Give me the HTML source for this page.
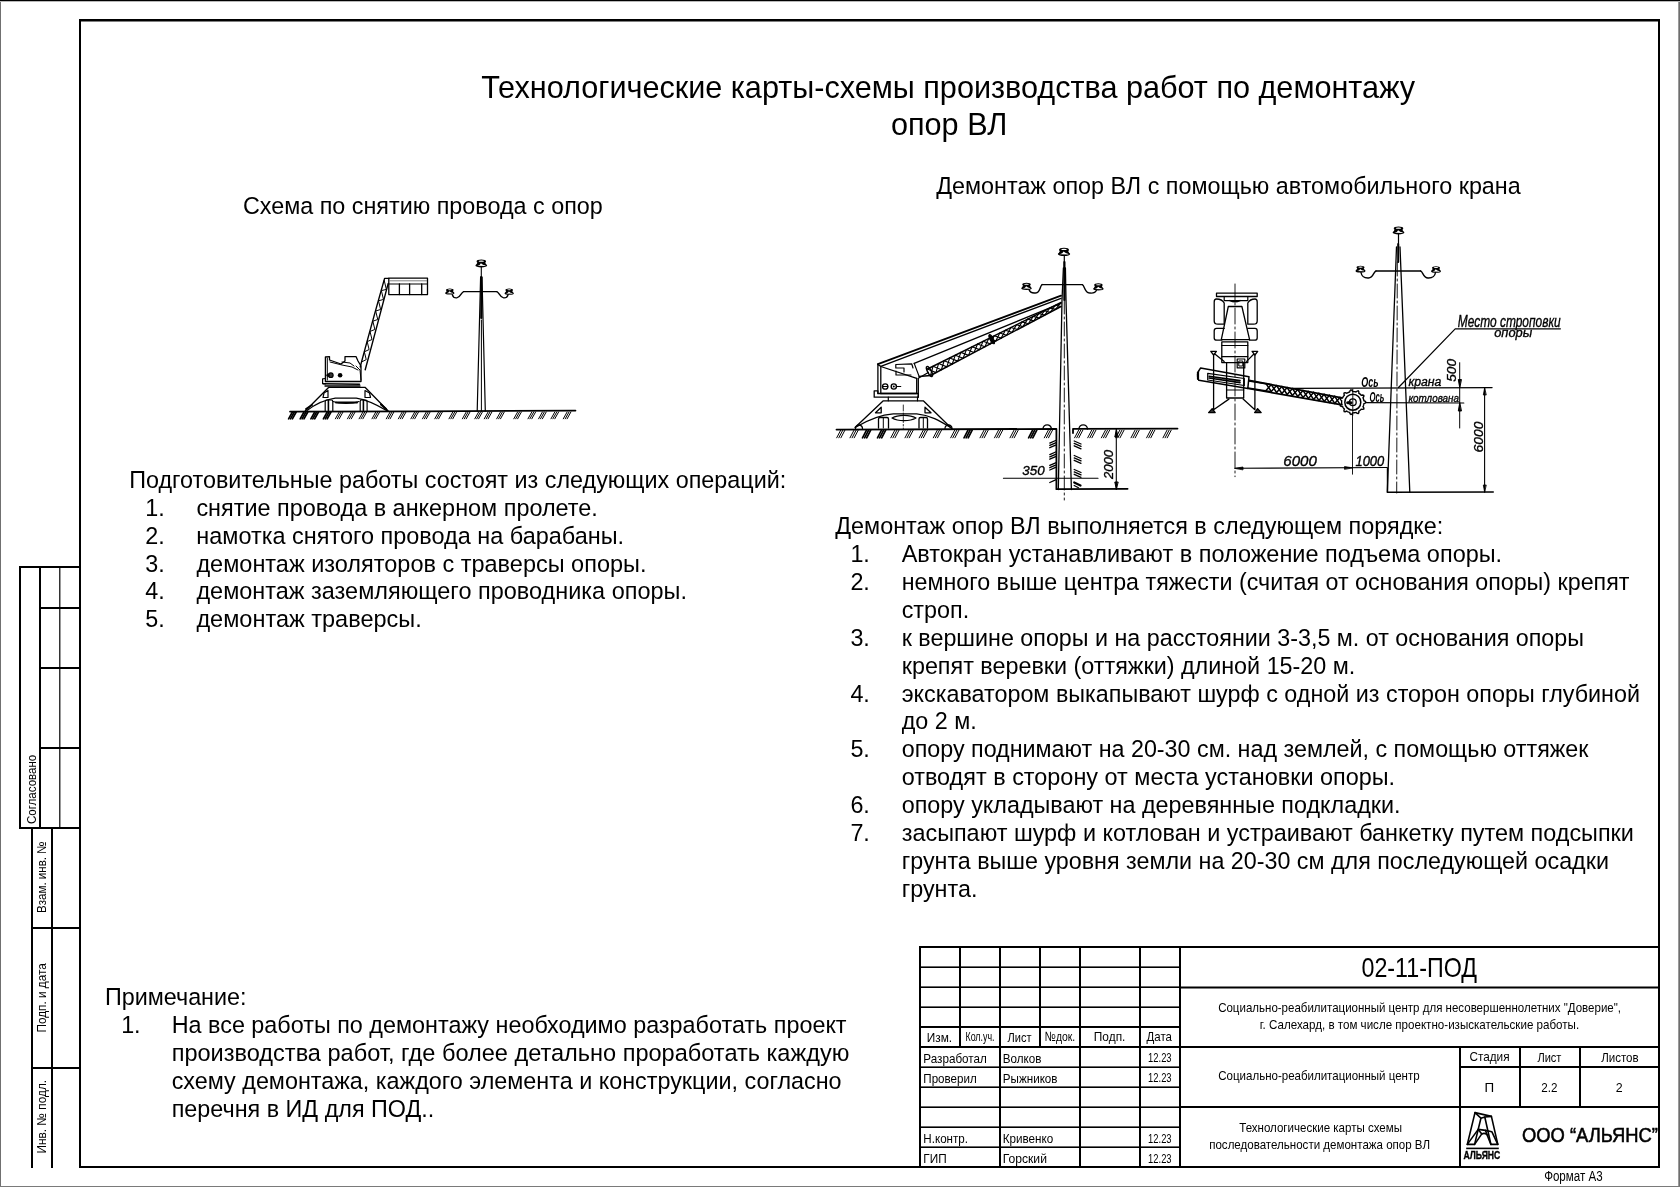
<!DOCTYPE html>
<html><head><meta charset="utf-8"><title>Технологические карты-схемы</title>
<style>html,body{margin:0;padding:0;background:#fff;}body{width:1680px;height:1187px;overflow:hidden;font-family:"Liberation Sans",sans-serif;}svg{display:block;filter:grayscale(100%);}</style>
</head><body>
<svg width="1680" height="1187" viewBox="0 0 1680 1187" font-family="'Liberation Sans', sans-serif"><rect x="0" y="0" width="1" height="1187" fill="#707070"/>
<rect x="1678" y="0" width="1" height="1187" fill="#9a9a9a"/>
<rect x="1679" y="0" width="1" height="1187" fill="#6e6e6e"/>
<rect x="0" y="1186" width="1680" height="1" fill="#7a7a7a"/>
<rect x="0" y="1" width="1680" height="1" fill="#b8b8b8"/>
<rect x="0" y="0" width="1680" height="1" fill="#000"/>
<rect x="79" y="19" width="1581" height="2.5" fill="#000"/>
<rect x="79" y="19" width="2" height="1149" fill="#000"/>
<rect x="1658" y="19" width="2" height="1149" fill="#000"/>
<rect x="79" y="1166" width="1581" height="2" fill="#000"/>
<rect x="19" y="566" width="61" height="2" fill="#000"/>
<rect x="19" y="566" width="2" height="263" fill="#000"/>
<rect x="39" y="566" width="2" height="263" fill="#000"/>
<rect x="59.2" y="566" width="1.2" height="262" fill="#000"/>
<rect x="39" y="607" width="41" height="2" fill="#000"/>
<rect x="39" y="667" width="41" height="2" fill="#000"/>
<rect x="39" y="747" width="41" height="2" fill="#000"/>
<rect x="19" y="827" width="61" height="2" fill="#000"/>
<rect x="31" y="827" width="2" height="341" fill="#000"/>
<rect x="51" y="827" width="2" height="341" fill="#000"/>
<rect x="31" y="927" width="49" height="2" fill="#000"/>
<rect x="31" y="1067" width="49" height="2" fill="#000"/>
<text transform="translate(36.00 824.09) rotate(-90)" x="0" y="0" font-size="13.5" textLength="69.37" lengthAdjust="spacingAndGlyphs">Согласовано</text>
<text transform="translate(46.20 912.95) rotate(-90)" x="0" y="0" font-size="13.0" textLength="71.52" lengthAdjust="spacingAndGlyphs">Взам. инв. №</text>
<text transform="translate(46.00 1032.55) rotate(-90)" x="0" y="0" font-size="13.0" textLength="69.36" lengthAdjust="spacingAndGlyphs">Подп. и дата</text>
<text transform="translate(46.00 1153.57) rotate(-90)" x="0" y="0" font-size="13.0" textLength="73.65" lengthAdjust="spacingAndGlyphs">Инв. № подл.</text>
<rect x="919" y="946" width="741" height="2" fill="#000"/>
<rect x="919" y="946" width="2" height="222" fill="#000"/>
<rect x="999" y="946" width="2" height="222" fill="#000"/>
<rect x="1079" y="946" width="2" height="222" fill="#000"/>
<rect x="1139" y="946" width="2" height="222" fill="#000"/>
<rect x="1179" y="946" width="2" height="222" fill="#000"/>
<rect x="959" y="946" width="2" height="102" fill="#000"/>
<rect x="1039" y="946" width="2" height="102" fill="#000"/>
<rect x="919" y="966.4" width="261" height="1.6" fill="#000"/>
<rect x="919" y="986.4" width="261" height="1.6" fill="#000"/>
<rect x="919" y="1006.4" width="261" height="1.6" fill="#000"/>
<rect x="919" y="1066.4" width="261" height="1.6" fill="#000"/>
<rect x="919" y="1086.4" width="261" height="1.6" fill="#000"/>
<rect x="919" y="1106.4" width="261" height="1.6" fill="#000"/>
<rect x="919" y="1126.4" width="261" height="1.6" fill="#000"/>
<rect x="919" y="1146.4" width="261" height="1.6" fill="#000"/>
<rect x="919" y="1026" width="261" height="2" fill="#000"/>
<rect x="919" y="1046" width="261" height="2" fill="#000"/>
<rect x="1180" y="986.5" width="480" height="2" fill="#000"/>
<rect x="1180" y="1046" width="480" height="2" fill="#000"/>
<rect x="1180" y="1106" width="480" height="2" fill="#000"/>
<rect x="1459" y="1046" width="2" height="122" fill="#000"/>
<rect x="1519" y="1046" width="2" height="62" fill="#000"/>
<rect x="1579" y="1046" width="2" height="62" fill="#000"/>
<rect x="1459" y="1066" width="201" height="2" fill="#000"/>
<text x="926.73" y="1042.30" font-size="13.5" textLength="25.34" lengthAdjust="spacingAndGlyphs" fill="#000">Изм.</text>
<text x="965.47" y="1041.00" font-size="13.5" textLength="29.03" lengthAdjust="spacingAndGlyphs" fill="#000">Кол.уч.</text>
<text x="1007.50" y="1042.30" font-size="13.5" textLength="23.99" lengthAdjust="spacingAndGlyphs" fill="#000">Лист</text>
<text x="1044.74" y="1041.10" font-size="13.5" textLength="30.50" lengthAdjust="spacingAndGlyphs" fill="#000">№док.</text>
<text x="1093.84" y="1041.00" font-size="13.5" textLength="31.54" lengthAdjust="spacingAndGlyphs" fill="#000">Подп.</text>
<text x="1146.52" y="1040.60" font-size="13.5" textLength="25.48" lengthAdjust="spacingAndGlyphs" fill="#000">Дата</text>
<text x="923.34" y="1062.60" font-size="12.4" textLength="63.47" lengthAdjust="spacingAndGlyphs" fill="#000">Разработал</text>
<text x="1002.85" y="1062.60" font-size="12.4" textLength="38.65" lengthAdjust="spacingAndGlyphs" fill="#000">Волков</text>
<text x="923.36" y="1082.90" font-size="12.4" textLength="53.34" lengthAdjust="spacingAndGlyphs" fill="#000">Проверил</text>
<text x="1002.85" y="1082.90" font-size="12.4" textLength="54.66" lengthAdjust="spacingAndGlyphs" fill="#000">Рыжников</text>
<text x="923.35" y="1143.00" font-size="12.4" textLength="44.61" lengthAdjust="spacingAndGlyphs" fill="#000">Н.контр.</text>
<text x="1002.74" y="1143.00" font-size="12.4" textLength="50.55" lengthAdjust="spacingAndGlyphs" fill="#000">Кривенко</text>
<text x="923.33" y="1162.70" font-size="12.4" textLength="23.30" lengthAdjust="spacingAndGlyphs" fill="#000">ГИП</text>
<text x="1002.70" y="1162.70" font-size="12.4" textLength="44.24" lengthAdjust="spacingAndGlyphs" fill="#000">Горский</text>
<text x="1148.09" y="1061.60" font-size="13.0" textLength="23.53" lengthAdjust="spacingAndGlyphs" fill="#000">12.23</text>
<text x="1148.09" y="1081.70" font-size="13.0" textLength="23.53" lengthAdjust="spacingAndGlyphs" fill="#000">12.23</text>
<text x="1148.09" y="1142.50" font-size="13.0" textLength="23.53" lengthAdjust="spacingAndGlyphs" fill="#000">12.23</text>
<text x="1148.09" y="1162.50" font-size="13.0" textLength="23.53" lengthAdjust="spacingAndGlyphs" fill="#000">12.23</text>
<text x="1361.49" y="977.00" font-size="28.3" textLength="115.63" lengthAdjust="spacingAndGlyphs" fill="#000">02-11-ПОД</text>
<text x="1218.16" y="1011.90" font-size="12.8" textLength="402.87" lengthAdjust="spacingAndGlyphs" fill="#000">Социально-реабилитационный центр для несовершеннолетних &quot;Доверие&quot;,</text>
<text x="1259.80" y="1029.40" font-size="12.8" textLength="319.35" lengthAdjust="spacingAndGlyphs" fill="#000">г. Салехард, в том числе проектно-изыскательские работы.</text>
<text x="1218.31" y="1080.00" font-size="13.2" textLength="201.27" lengthAdjust="spacingAndGlyphs" fill="#000">Социально-реабилитационный центр</text>
<text x="1469.40" y="1060.60" font-size="13.2" textLength="40.17" lengthAdjust="spacingAndGlyphs" fill="#000">Стадия</text>
<text x="1537.40" y="1061.90" font-size="13.2" textLength="24.04" lengthAdjust="spacingAndGlyphs" fill="#000">Лист</text>
<text x="1601.15" y="1061.90" font-size="13.2" textLength="37.45" lengthAdjust="spacingAndGlyphs" fill="#000">Листов</text>
<text x="1484.51" y="1091.90" font-size="13.2" textLength="9.64" lengthAdjust="spacingAndGlyphs" fill="#000">П</text>
<text x="1541.32" y="1091.90" font-size="13.2" textLength="16.16" lengthAdjust="spacingAndGlyphs" fill="#000">2.2</text>
<text x="1615.63" y="1091.90" font-size="13.2" textLength="6.89" lengthAdjust="spacingAndGlyphs" fill="#000">2</text>
<text x="1239.25" y="1131.70" font-size="12.8" textLength="162.74" lengthAdjust="spacingAndGlyphs" fill="#000">Технологические карты схемы</text>
<text x="1209.20" y="1148.70" font-size="12.8" textLength="220.84" lengthAdjust="spacingAndGlyphs" fill="#000">последовательности демонтажа опор ВЛ</text>
<text x="1521.94" y="1141.90" font-size="20.5" textLength="135.95" lengthAdjust="spacingAndGlyphs" stroke="#000" stroke-width="0.55" fill="#000">ООО “АЛЬЯНС”</text>
<text x="1544.13" y="1180.70" font-size="13.8" textLength="58.48" lengthAdjust="spacingAndGlyphs" fill="#000">Формат А3</text>
<g fill="none" stroke="#000" stroke-width="1.6" stroke-linejoin="round" stroke-linecap="round"><path d="M1475,1112.6 L1467.3,1144.4 L1474.6,1144.4 L1480.9,1118.2 Z"/><path d="M1475,1112.6 L1491.4,1116.4 L1497.8,1144.4 L1490.9,1144.4 L1484.8,1117.0 L1480.9,1118.2"/><path d="M1484.8,1117.0 L1491.4,1116.4"/><path d="M1467.3,1144.4 L1478.2,1129.4 L1485.5,1130.4 L1491.8,1131.7 L1497.8,1144.4"/><path d="M1474.6,1144.4 L1481.8,1133.9 Q1484.6,1132.6 1487.0,1134.6 L1490.9,1144.4"/><path d="M1478.2,1129.4 L1481.8,1133.9 M1485.5,1130.4 L1487.0,1134.6"/></g>
<rect x="1466.2" y="1147.6" width="32.6" height="1.6" fill="#000"/>
<text x="1463.38" y="1158.50" font-size="10.5" textLength="36.95" lengthAdjust="spacingAndGlyphs" font-weight="bold" stroke="#000" stroke-width="0.35" fill="#000">АЛЬЯНС</text>
<text x="481.13" y="98.40" font-size="30.62" fill="#000">Технологические карты-схемы производства работ по демонтажу</text>
<text x="891.01" y="134.60" font-size="30.62" fill="#000">опор ВЛ</text>
<text x="242.91" y="213.90" font-size="23.35" fill="#000">Схема по снятию провода с опор</text>
<text x="936.24" y="193.90" font-size="23.35" fill="#000">Демонтаж опор ВЛ с помощью автомобильного крана</text>
<text x="129.21" y="488.00" font-size="23.35" fill="#000">Подготовительные работы состоят из следующих операций:</text>
<text x="145.30" y="515.90" font-size="23.35">1.</text>
<text x="196.40" y="515.90" font-size="23.35" textLength="401.44" lengthAdjust="spacingAndGlyphs" fill="#000">снятие провода в анкерном пролете.</text>
<text x="145.30" y="543.70" font-size="23.35">2.</text>
<text x="196.39" y="543.70" font-size="23.35" textLength="427.74" lengthAdjust="spacingAndGlyphs" fill="#000">намотка снятого провода на барабаны.</text>
<text x="145.30" y="571.50" font-size="23.35">3.</text>
<text x="196.40" y="571.50" font-size="23.35" textLength="450.05" lengthAdjust="spacingAndGlyphs" fill="#000">демонтаж изоляторов с траверсы опоры.</text>
<text x="145.30" y="599.30" font-size="23.35">4.</text>
<text x="196.40" y="599.30" font-size="23.35" textLength="490.52" lengthAdjust="spacingAndGlyphs" fill="#000">демонтаж заземляющего проводника опоры.</text>
<text x="145.30" y="627.10" font-size="23.35">5.</text>
<text x="196.40" y="627.10" font-size="23.35" textLength="225.33" lengthAdjust="spacingAndGlyphs" fill="#000">демонтаж траверсы.</text>
<text x="835.24" y="533.90" font-size="23.35" textLength="608.15" lengthAdjust="spacingAndGlyphs" fill="#000">Демонтаж опор ВЛ выполняется в следующем порядке:</text>
<text x="850.40" y="561.84" font-size="23.35">1.</text>
<text x="901.70" y="561.84" font-size="23.35" textLength="600.42" lengthAdjust="spacingAndGlyphs" fill="#000">Автокран устанавливают в положение подъема опоры.</text>
<text x="850.40" y="589.78" font-size="23.35">2.</text>
<text x="901.71" y="589.78" font-size="23.35" textLength="727.70" lengthAdjust="spacingAndGlyphs" fill="#000">немного выше центра тяжести (считая от основания опоры) крепят</text>
<text x="901.70" y="617.72" font-size="23.35">строп.</text>
<text x="850.40" y="645.66" font-size="23.35">3.</text>
<text x="901.70" y="645.66" font-size="23.35" textLength="682.30" lengthAdjust="spacingAndGlyphs" fill="#000">к вершине опоры и на расстоянии 3-3,5 м. от основания опоры</text>
<text x="901.70" y="673.60" font-size="23.35">крепят веревки (оттяжки) длиной 15-20 м.</text>
<text x="850.40" y="701.54" font-size="23.35">4.</text>
<text x="901.70" y="701.54" font-size="23.35" textLength="738.33" lengthAdjust="spacingAndGlyphs" fill="#000">экскаватором выкапывают шурф с одной из сторон опоры глубиной</text>
<text x="901.70" y="729.48" font-size="23.35">до 2 м.</text>
<text x="850.40" y="757.42" font-size="23.35">5.</text>
<text x="901.70" y="757.42" font-size="23.35" textLength="686.80" lengthAdjust="spacingAndGlyphs" fill="#000">опору поднимают на 20-30 см. над землей, с помощью оттяжек</text>
<text x="901.70" y="785.36" font-size="23.35" textLength="493.43" lengthAdjust="spacingAndGlyphs" fill="#000">отводят в сторону от места установки опоры.</text>
<text x="850.40" y="813.30" font-size="23.35">6.</text>
<text x="901.70" y="813.30" font-size="23.35" textLength="498.83" lengthAdjust="spacingAndGlyphs" fill="#000">опору укладывают на деревянные подкладки.</text>
<text x="850.40" y="841.24" font-size="23.35">7.</text>
<text x="901.70" y="841.24" font-size="23.35" textLength="732.22" lengthAdjust="spacingAndGlyphs" fill="#000">засыпают шурф и котлован и устраивают банкетку путем подсыпки</text>
<text x="901.70" y="869.18" font-size="23.35" textLength="707.22" lengthAdjust="spacingAndGlyphs" fill="#000">грунта выше уровня земли на 20-30 см для последующей осадки</text>
<text x="901.70" y="897.12" font-size="23.35">грунта.</text>
<text x="104.91" y="1005.00" font-size="23.35" fill="#000">Примечание:</text>
<text x="121.13" y="1033.00" font-size="23.35">1.</text>
<text x="171.68" y="1033.00" font-size="23.35" textLength="674.91" lengthAdjust="spacingAndGlyphs" fill="#000">На все работы по демонтажу необходимо разработать проект</text>
<text x="171.67" y="1060.90" font-size="23.35" textLength="677.71" lengthAdjust="spacingAndGlyphs" fill="#000">производства работ, где более детально проработать каждую</text>
<text x="171.69" y="1088.80" font-size="23.35" textLength="669.90" lengthAdjust="spacingAndGlyphs" fill="#000">схему демонтажа, каждого элемента и конструкции, согласно</text>
<text x="171.69" y="1116.70" font-size="23.35">перечня в ИД для ПОД..</text>
<path d="M290,411.6 L420,411.4 L575.5,410.6" stroke="#000" stroke-width="1.7" fill="none" stroke-linecap="round" stroke-linejoin="round" /><line x1="288.60" y1="418.80" x2="292.40" y2="412.00" stroke="#000" stroke-width="1.7" stroke-linecap="round" /><line x1="290.50" y1="418.80" x2="294.30" y2="412.00" stroke="#000" stroke-width="1.7" stroke-linecap="round" /><line x1="292.40" y1="418.80" x2="296.20" y2="412.00" stroke="#000" stroke-width="1.7" stroke-linecap="round" /><line x1="300.20" y1="418.80" x2="304.00" y2="412.00" stroke="#000" stroke-width="1.7" stroke-linecap="round" /><line x1="302.10" y1="418.80" x2="305.90" y2="412.00" stroke="#000" stroke-width="1.7" stroke-linecap="round" /><line x1="304.00" y1="418.80" x2="307.80" y2="412.00" stroke="#000" stroke-width="1.7" stroke-linecap="round" /><line x1="310.90" y1="418.80" x2="314.70" y2="412.00" stroke="#000" stroke-width="1.7" stroke-linecap="round" /><line x1="312.80" y1="418.80" x2="316.60" y2="412.00" stroke="#000" stroke-width="1.7" stroke-linecap="round" /><line x1="314.70" y1="418.80" x2="318.50" y2="412.00" stroke="#000" stroke-width="1.7" stroke-linecap="round" /><line x1="323.40" y1="418.80" x2="327.20" y2="412.00" stroke="#000" stroke-width="1.7" stroke-linecap="round" /><line x1="325.30" y1="418.80" x2="329.10" y2="412.00" stroke="#000" stroke-width="1.7" stroke-linecap="round" /><line x1="327.20" y1="418.80" x2="331.00" y2="412.00" stroke="#000" stroke-width="1.7" stroke-linecap="round" /><line x1="335.40" y1="418.80" x2="339.20" y2="412.00" stroke="#000" stroke-width="1.0" stroke-linecap="round" /><line x1="337.30" y1="418.80" x2="341.10" y2="412.00" stroke="#000" stroke-width="1.0" stroke-linecap="round" /><line x1="339.20" y1="418.80" x2="343.00" y2="412.00" stroke="#000" stroke-width="1.0" stroke-linecap="round" /><line x1="347.50" y1="418.80" x2="351.30" y2="412.00" stroke="#000" stroke-width="1.0" stroke-linecap="round" /><line x1="349.40" y1="418.80" x2="353.20" y2="412.00" stroke="#000" stroke-width="1.0" stroke-linecap="round" /><line x1="351.30" y1="418.80" x2="355.10" y2="412.00" stroke="#000" stroke-width="1.0" stroke-linecap="round" /><line x1="359.10" y1="418.80" x2="362.90" y2="412.00" stroke="#000" stroke-width="1.0" stroke-linecap="round" /><line x1="361.00" y1="418.80" x2="364.80" y2="412.00" stroke="#000" stroke-width="1.0" stroke-linecap="round" /><line x1="362.90" y1="418.80" x2="366.70" y2="412.00" stroke="#000" stroke-width="1.0" stroke-linecap="round" /><line x1="372.00" y1="418.80" x2="375.80" y2="412.00" stroke="#000" stroke-width="1.0" stroke-linecap="round" /><line x1="373.90" y1="418.80" x2="377.70" y2="412.00" stroke="#000" stroke-width="1.0" stroke-linecap="round" /><line x1="375.80" y1="418.80" x2="379.60" y2="412.00" stroke="#000" stroke-width="1.0" stroke-linecap="round" /><line x1="386.30" y1="418.80" x2="390.10" y2="412.00" stroke="#000" stroke-width="1.0" stroke-linecap="round" /><line x1="388.20" y1="418.80" x2="392.00" y2="412.00" stroke="#000" stroke-width="1.0" stroke-linecap="round" /><line x1="390.10" y1="418.80" x2="393.90" y2="412.00" stroke="#000" stroke-width="1.0" stroke-linecap="round" /><line x1="398.40" y1="418.80" x2="402.20" y2="412.00" stroke="#000" stroke-width="1.0" stroke-linecap="round" /><line x1="400.30" y1="418.80" x2="404.10" y2="412.00" stroke="#000" stroke-width="1.0" stroke-linecap="round" /><line x1="402.20" y1="418.80" x2="406.00" y2="412.00" stroke="#000" stroke-width="1.0" stroke-linecap="round" /><line x1="410.90" y1="418.80" x2="414.70" y2="412.00" stroke="#000" stroke-width="1.0" stroke-linecap="round" /><line x1="412.80" y1="418.80" x2="416.60" y2="412.00" stroke="#000" stroke-width="1.0" stroke-linecap="round" /><line x1="414.70" y1="418.80" x2="418.50" y2="412.00" stroke="#000" stroke-width="1.0" stroke-linecap="round" /><line x1="422.50" y1="418.80" x2="426.30" y2="412.00" stroke="#000" stroke-width="1.0" stroke-linecap="round" /><line x1="424.40" y1="418.80" x2="428.20" y2="412.00" stroke="#000" stroke-width="1.0" stroke-linecap="round" /><line x1="426.30" y1="418.80" x2="430.10" y2="412.00" stroke="#000" stroke-width="1.0" stroke-linecap="round" /><line x1="434.80" y1="418.80" x2="438.60" y2="412.00" stroke="#000" stroke-width="1.0" stroke-linecap="round" /><line x1="436.70" y1="418.80" x2="440.50" y2="412.00" stroke="#000" stroke-width="1.0" stroke-linecap="round" /><line x1="438.60" y1="418.80" x2="442.40" y2="412.00" stroke="#000" stroke-width="1.0" stroke-linecap="round" /><line x1="449.00" y1="418.80" x2="452.80" y2="412.00" stroke="#000" stroke-width="1.0" stroke-linecap="round" /><line x1="450.90" y1="418.80" x2="454.70" y2="412.00" stroke="#000" stroke-width="1.0" stroke-linecap="round" /><line x1="452.80" y1="418.80" x2="456.60" y2="412.00" stroke="#000" stroke-width="1.0" stroke-linecap="round" /><line x1="462.40" y1="418.80" x2="466.20" y2="412.00" stroke="#000" stroke-width="1.0" stroke-linecap="round" /><line x1="464.30" y1="418.80" x2="468.10" y2="412.00" stroke="#000" stroke-width="1.0" stroke-linecap="round" /><line x1="466.20" y1="418.80" x2="470.00" y2="412.00" stroke="#000" stroke-width="1.0" stroke-linecap="round" /><line x1="474.80" y1="418.80" x2="478.60" y2="412.00" stroke="#000" stroke-width="1.0" stroke-linecap="round" /><line x1="476.70" y1="418.80" x2="480.50" y2="412.00" stroke="#000" stroke-width="1.0" stroke-linecap="round" /><line x1="478.60" y1="418.80" x2="482.40" y2="412.00" stroke="#000" stroke-width="1.0" stroke-linecap="round" /><line x1="484.30" y1="418.80" x2="488.10" y2="412.00" stroke="#000" stroke-width="1.0" stroke-linecap="round" /><line x1="486.20" y1="418.80" x2="490.00" y2="412.00" stroke="#000" stroke-width="1.0" stroke-linecap="round" /><line x1="488.10" y1="418.80" x2="491.90" y2="412.00" stroke="#000" stroke-width="1.0" stroke-linecap="round" /><line x1="496.70" y1="418.80" x2="500.50" y2="412.00" stroke="#000" stroke-width="1.0" stroke-linecap="round" /><line x1="498.60" y1="418.80" x2="502.40" y2="412.00" stroke="#000" stroke-width="1.0" stroke-linecap="round" /><line x1="500.50" y1="418.80" x2="504.30" y2="412.00" stroke="#000" stroke-width="1.0" stroke-linecap="round" /><line x1="513.80" y1="418.80" x2="517.60" y2="412.00" stroke="#000" stroke-width="1.0" stroke-linecap="round" /><line x1="515.70" y1="418.80" x2="519.50" y2="412.00" stroke="#000" stroke-width="1.0" stroke-linecap="round" /><line x1="517.60" y1="418.80" x2="521.40" y2="412.00" stroke="#000" stroke-width="1.0" stroke-linecap="round" /><line x1="528.00" y1="418.80" x2="531.80" y2="412.00" stroke="#000" stroke-width="1.0" stroke-linecap="round" /><line x1="529.90" y1="418.80" x2="533.70" y2="412.00" stroke="#000" stroke-width="1.0" stroke-linecap="round" /><line x1="531.80" y1="418.80" x2="535.60" y2="412.00" stroke="#000" stroke-width="1.0" stroke-linecap="round" /><line x1="538.60" y1="418.80" x2="542.40" y2="412.00" stroke="#000" stroke-width="1.0" stroke-linecap="round" /><line x1="540.50" y1="418.80" x2="544.30" y2="412.00" stroke="#000" stroke-width="1.0" stroke-linecap="round" /><line x1="542.40" y1="418.80" x2="546.20" y2="412.00" stroke="#000" stroke-width="1.0" stroke-linecap="round" /><line x1="551.00" y1="418.80" x2="554.80" y2="412.00" stroke="#000" stroke-width="1.0" stroke-linecap="round" /><line x1="552.90" y1="418.80" x2="556.70" y2="412.00" stroke="#000" stroke-width="1.0" stroke-linecap="round" /><line x1="554.80" y1="418.80" x2="558.60" y2="412.00" stroke="#000" stroke-width="1.0" stroke-linecap="round" /><line x1="563.30" y1="418.80" x2="567.10" y2="412.00" stroke="#000" stroke-width="1.0" stroke-linecap="round" /><line x1="565.20" y1="418.80" x2="569.00" y2="412.00" stroke="#000" stroke-width="1.0" stroke-linecap="round" /><line x1="567.10" y1="418.80" x2="570.90" y2="412.00" stroke="#000" stroke-width="1.0" stroke-linecap="round" /><ellipse cx="481.3" cy="261.42" rx="4.75" ry="1.90" fill="#000"/><path d="M477.88,261.70 L484.72,261.70 L486.62,265.31 L475.98,265.31 Z" fill="#000"/><ellipse cx="481.3" cy="265.60" rx="5.89" ry="1.80" fill="#000"/><ellipse cx="481.3" cy="261.13" rx="2.66" ry="0.62" fill="#fff"/><path d="M477.31,265.79 Q480.16,265.41 480.92,263.22 Q482.73,265.12 485.48,265.50 L485.48,266.07 Z" fill="#fff"/><path d="M480.6,277 L477.2,411" stroke="#000" stroke-width="1.2" fill="none" stroke-linecap="round" stroke-linejoin="round" /><path d="M482.0,277 L485.3,411" stroke="#000" stroke-width="1.2" fill="none" stroke-linecap="round" stroke-linejoin="round" /><path d="M481.3,267 L481.3,277" stroke="#000" stroke-width="1.1" fill="none" stroke-linecap="round" stroke-linejoin="round" /><path d="M481.3,277 L481.3,318" stroke="#000" stroke-width="2.2" fill="none" stroke-linecap="round" stroke-linejoin="round" /><path d="M481.4,320 L481.4,411" stroke="#000" stroke-width="1.0" fill="none" stroke-linecap="round" stroke-linejoin="round" /><path d="M463.6,291.6 L496.8,291.6" stroke="#000" stroke-width="1.4" fill="none" stroke-linecap="round" stroke-linejoin="round" /><path d="M463.6,291.6 C461.2,292.2 460.6,297.6 456.8,297.9 C454,298.1 452.8,296.5 452.3,294.6" stroke="#000" stroke-width="1.4" fill="none" stroke-linecap="round" stroke-linejoin="round" /><path d="M496.8,291.6 C499.2,292.2 499.8,297.6 503.6,297.9 C506.4,298.1 507.6,296.5 508.1,294.6" stroke="#000" stroke-width="1.4" fill="none" stroke-linecap="round" stroke-linejoin="round" /><ellipse cx="449.8" cy="289.88" rx="3.75" ry="1.50" fill="#000"/><path d="M447.10,290.10 L452.50,290.10 L454.00,292.95 L445.60,292.95 Z" fill="#000"/><ellipse cx="449.8" cy="293.18" rx="4.65" ry="1.42" fill="#000"/><ellipse cx="449.8" cy="289.65" rx="2.10" ry="0.49" fill="#fff"/><path d="M446.65,293.33 Q448.90,293.03 449.50,291.30 Q450.93,292.80 453.10,293.10 L453.10,293.55 Z" fill="#fff"/><ellipse cx="509.2" cy="290.07" rx="3.75" ry="1.50" fill="#000"/><path d="M506.50,290.30 L511.90,290.30 L513.40,293.15 L505.00,293.15 Z" fill="#000"/><ellipse cx="509.2" cy="293.38" rx="4.65" ry="1.42" fill="#000"/><ellipse cx="509.2" cy="289.85" rx="2.10" ry="0.49" fill="#fff"/><path d="M506.05,293.53 Q508.30,293.23 508.90,291.50 Q510.32,293.00 512.50,293.30 L512.50,293.75 Z" fill="#fff"/><path d="M388.8,278.2 L427.5,278.2 L427.5,294.6 L388.8,294.6 Z" stroke="#000" stroke-width="1.3" fill="none" stroke-linecap="round" stroke-linejoin="round" /><path d="M388.8,284 L427.5,284" stroke="#000" stroke-width="1.2" fill="none" stroke-linecap="round" stroke-linejoin="round" /><path d="M390,280.8 L426.5,280.8" stroke="#000" stroke-width="0.5" fill="none" stroke-linecap="round" stroke-linejoin="round" /><path d="M399.4,284 L399.4,294.6" stroke="#000" stroke-width="1.3" fill="none" stroke-linecap="round" stroke-linejoin="round" /><path d="M409.6,284 L409.6,294.6" stroke="#000" stroke-width="1.3" fill="none" stroke-linecap="round" stroke-linejoin="round" /><path d="M421.7,284 L421.7,294.6" stroke="#000" stroke-width="1.3" fill="none" stroke-linecap="round" stroke-linejoin="round" /><path d="M360.2,367 Q370,330 384.6,278.4 L388.8,278.4" stroke="#000" stroke-width="1.4" fill="none" stroke-linecap="round" stroke-linejoin="round" /><path d="M365.2,369.8 Q376,330 388.2,283.4" stroke="#000" stroke-width="1.4" fill="none" stroke-linecap="round" stroke-linejoin="round" /><path d="M361.50,362.00 L366.24,359.59 L364.34,351.80 L369.11,349.56 L367.18,341.60 L371.99,339.54 L370.01,331.40 L374.86,329.51 L372.85,321.20 L377.74,319.49 L375.69,311.00 L380.61,309.46 L378.52,300.80 L383.49,299.44 L381.36,290.60 L386.36,289.41 L384.20,280.40" stroke="#000" stroke-width="1.0" fill="none" stroke-linecap="round" stroke-linejoin="round" /><path d="M325.4,381.5 L325.4,357 L329.5,356.6 L329.5,360 L341,364 L345,361 L345,356.6 L356,356.6 L358,361 L361,366 L361,381.5 Z" stroke="#000" stroke-width="1.3" fill="none" stroke-linecap="round" stroke-linejoin="round" /><path d="M327.3,358 L327.3,380" stroke="#000" stroke-width="1.0" fill="none" stroke-linecap="round" stroke-linejoin="round" /><path d="M330,362 L342,365 L352,367 L358,370" stroke="#000" stroke-width="1.0" fill="none" stroke-linecap="round" stroke-linejoin="round" /><path d="M342,362 L350,363 L354,366" stroke="#000" stroke-width="1.0" fill="none" stroke-linecap="round" stroke-linejoin="round" /><path d="M356,366 L360,370 L361,380" stroke="#000" stroke-width="1.0" fill="none" stroke-linecap="round" stroke-linejoin="round" /><circle cx="330.8" cy="375.2" r="2.3" fill="#333" stroke="#000" stroke-width="1.2"/><circle cx="340.1" cy="375.2" r="2.3" fill="#000"/><circle cx="328.0" cy="375.2" r="1.6" fill="#000"/><path d="M325.4,378.5 L322.6,378.8 L322.6,383.5 L325.4,384" stroke="#000" stroke-width="1.2" fill="none" stroke-linecap="round" stroke-linejoin="round" /><path d="M323,383.8 L359.5,384.3" stroke="#000" stroke-width="1.6" fill="none" stroke-linecap="round" stroke-linejoin="round" /><path d="M325,386 L360,386" stroke="#000" stroke-width="1.3" fill="none" stroke-linecap="round" stroke-linejoin="round" /><path d="M305,411.3 L328.8,387.3 L365.0,387.3 L388.2,411.0" stroke="#000" stroke-width="1.3" fill="none" stroke-linecap="round" stroke-linejoin="round" /><path d="M307,410.5 C318,402 326,399.5 335.3,398.1 L356.3,398.1 C365,399.5 374,403 386.5,410.5" stroke="#000" stroke-width="1.2" fill="none" stroke-linecap="round" stroke-linejoin="round" /><path d="M333,401.5 C340,404 352,404 359,401.5" stroke="#000" stroke-width="1.2" fill="none" stroke-linecap="round" stroke-linejoin="round" /><path d="M336,402.5 L357,402.5" stroke="#000" stroke-width="2.0" fill="none" stroke-linecap="round" stroke-linejoin="round" /><path d="M325.2,410.8 L325.2,401.5 Q325.2,400 326.7,400 L331.3,400 Q332.8,400 332.8,401.5 L332.8,410.8" stroke="#000" stroke-width="1.2" fill="none" stroke-linecap="round" stroke-linejoin="round" /><path d="M328.4,400.5 L328.4,410.5" stroke="#000" stroke-width="1.6" fill="none" stroke-linecap="round" stroke-linejoin="round" /><path d="M360.2,410.8 L360.2,401.5 Q360.2,400 361.7,400 L365.6,400 Q367.1,400 367.1,401.5 L367.1,410.8" stroke="#000" stroke-width="1.2" fill="none" stroke-linecap="round" stroke-linejoin="round" /><path d="M363.4,400.5 L363.4,410.5" stroke="#000" stroke-width="1.6" fill="none" stroke-linecap="round" stroke-linejoin="round" /><path d="M324,393 L328,390.5 L328,397.5 L323,397.5 Z" stroke="#000" stroke-width="1.2" fill="none" stroke-linecap="round" stroke-linejoin="round" /><path d="M365,390.5 L369.5,393 L370.5,397.5 L365,397.5 Z" stroke="#000" stroke-width="1.2" fill="none" stroke-linecap="round" stroke-linejoin="round" /><path d="M306,409 L312,405" stroke="#000" stroke-width="2.0" fill="none" stroke-linecap="round" stroke-linejoin="round" /><path d="M381,404.5 L386,409" stroke="#000" stroke-width="2.0" fill="none" stroke-linecap="round" stroke-linejoin="round" /><path d="M836.5,429.6 L1056.4,428.9 L1056.4,489.2 L1127.6,488.8" stroke="#000" stroke-width="1.8" fill="none" stroke-linecap="round" stroke-linejoin="round" /><path d="M1073.0,433 L1073.0,428.9 L1177.5,428.6" stroke="#000" stroke-width="1.8" fill="none" stroke-linecap="round" stroke-linejoin="round" /><line x1="836.70" y1="437.80" x2="840.70" y2="430.20" stroke="#000" stroke-width="1.0" stroke-linecap="round" /><line x1="838.80" y1="437.80" x2="842.80" y2="430.20" stroke="#000" stroke-width="1.0" stroke-linecap="round" /><line x1="840.90" y1="437.80" x2="844.90" y2="430.20" stroke="#000" stroke-width="1.0" stroke-linecap="round" /><line x1="850.00" y1="437.80" x2="854.00" y2="430.20" stroke="#000" stroke-width="1.0" stroke-linecap="round" /><line x1="852.10" y1="437.80" x2="856.10" y2="430.20" stroke="#000" stroke-width="1.0" stroke-linecap="round" /><line x1="854.20" y1="437.80" x2="858.20" y2="430.20" stroke="#000" stroke-width="1.0" stroke-linecap="round" /><line x1="862.50" y1="437.80" x2="866.50" y2="430.20" stroke="#000" stroke-width="1.7" stroke-linecap="round" /><line x1="864.60" y1="437.80" x2="868.60" y2="430.20" stroke="#000" stroke-width="1.7" stroke-linecap="round" /><line x1="866.70" y1="437.80" x2="870.70" y2="430.20" stroke="#000" stroke-width="1.7" stroke-linecap="round" /><line x1="877.50" y1="437.80" x2="881.50" y2="430.20" stroke="#000" stroke-width="1.7" stroke-linecap="round" /><line x1="879.60" y1="437.80" x2="883.60" y2="430.20" stroke="#000" stroke-width="1.7" stroke-linecap="round" /><line x1="881.70" y1="437.80" x2="885.70" y2="430.20" stroke="#000" stroke-width="1.7" stroke-linecap="round" /><line x1="890.80" y1="437.80" x2="894.80" y2="430.20" stroke="#000" stroke-width="1.0" stroke-linecap="round" /><line x1="892.90" y1="437.80" x2="896.90" y2="430.20" stroke="#000" stroke-width="1.0" stroke-linecap="round" /><line x1="895.00" y1="437.80" x2="899.00" y2="430.20" stroke="#000" stroke-width="1.0" stroke-linecap="round" /><line x1="905.00" y1="437.80" x2="909.00" y2="430.20" stroke="#000" stroke-width="1.0" stroke-linecap="round" /><line x1="907.10" y1="437.80" x2="911.10" y2="430.20" stroke="#000" stroke-width="1.0" stroke-linecap="round" /><line x1="909.20" y1="437.80" x2="913.20" y2="430.20" stroke="#000" stroke-width="1.0" stroke-linecap="round" /><line x1="919.20" y1="437.80" x2="923.20" y2="430.20" stroke="#000" stroke-width="1.0" stroke-linecap="round" /><line x1="921.30" y1="437.80" x2="925.30" y2="430.20" stroke="#000" stroke-width="1.0" stroke-linecap="round" /><line x1="923.40" y1="437.80" x2="927.40" y2="430.20" stroke="#000" stroke-width="1.0" stroke-linecap="round" /><line x1="933.30" y1="437.80" x2="937.30" y2="430.20" stroke="#000" stroke-width="1.0" stroke-linecap="round" /><line x1="935.40" y1="437.80" x2="939.40" y2="430.20" stroke="#000" stroke-width="1.0" stroke-linecap="round" /><line x1="937.50" y1="437.80" x2="941.50" y2="430.20" stroke="#000" stroke-width="1.0" stroke-linecap="round" /><line x1="950.70" y1="437.80" x2="954.70" y2="430.20" stroke="#000" stroke-width="1.0" stroke-linecap="round" /><line x1="952.80" y1="437.80" x2="956.80" y2="430.20" stroke="#000" stroke-width="1.0" stroke-linecap="round" /><line x1="954.90" y1="437.80" x2="958.90" y2="430.20" stroke="#000" stroke-width="1.0" stroke-linecap="round" /><line x1="964.00" y1="437.80" x2="968.00" y2="430.20" stroke="#000" stroke-width="1.7" stroke-linecap="round" /><line x1="966.10" y1="437.80" x2="970.10" y2="430.20" stroke="#000" stroke-width="1.7" stroke-linecap="round" /><line x1="968.20" y1="437.80" x2="972.20" y2="430.20" stroke="#000" stroke-width="1.7" stroke-linecap="round" /><line x1="980.00" y1="437.80" x2="984.00" y2="430.20" stroke="#000" stroke-width="1.0" stroke-linecap="round" /><line x1="982.10" y1="437.80" x2="986.10" y2="430.20" stroke="#000" stroke-width="1.0" stroke-linecap="round" /><line x1="984.20" y1="437.80" x2="988.20" y2="430.20" stroke="#000" stroke-width="1.0" stroke-linecap="round" /><line x1="994.50" y1="437.80" x2="998.50" y2="430.20" stroke="#000" stroke-width="1.0" stroke-linecap="round" /><line x1="996.60" y1="437.80" x2="1000.60" y2="430.20" stroke="#000" stroke-width="1.0" stroke-linecap="round" /><line x1="998.70" y1="437.80" x2="1002.70" y2="430.20" stroke="#000" stroke-width="1.0" stroke-linecap="round" /><line x1="1010.00" y1="437.80" x2="1014.00" y2="430.20" stroke="#000" stroke-width="1.0" stroke-linecap="round" /><line x1="1012.10" y1="437.80" x2="1016.10" y2="430.20" stroke="#000" stroke-width="1.0" stroke-linecap="round" /><line x1="1014.20" y1="437.80" x2="1018.20" y2="430.20" stroke="#000" stroke-width="1.0" stroke-linecap="round" /><line x1="1028.60" y1="437.80" x2="1032.60" y2="430.20" stroke="#000" stroke-width="1.7" stroke-linecap="round" /><line x1="1030.70" y1="437.80" x2="1034.70" y2="430.20" stroke="#000" stroke-width="1.7" stroke-linecap="round" /><line x1="1032.80" y1="437.80" x2="1036.80" y2="430.20" stroke="#000" stroke-width="1.7" stroke-linecap="round" /><line x1="1044.30" y1="437.80" x2="1048.30" y2="430.20" stroke="#000" stroke-width="1.0" stroke-linecap="round" /><line x1="1046.40" y1="437.80" x2="1050.40" y2="430.20" stroke="#000" stroke-width="1.0" stroke-linecap="round" /><line x1="1048.50" y1="437.80" x2="1052.50" y2="430.20" stroke="#000" stroke-width="1.0" stroke-linecap="round" /><line x1="1074.60" y1="437.80" x2="1078.60" y2="430.20" stroke="#000" stroke-width="1.0" stroke-linecap="round" /><line x1="1076.70" y1="437.80" x2="1080.70" y2="430.20" stroke="#000" stroke-width="1.0" stroke-linecap="round" /><line x1="1078.80" y1="437.80" x2="1082.80" y2="430.20" stroke="#000" stroke-width="1.0" stroke-linecap="round" /><line x1="1087.70" y1="437.80" x2="1091.70" y2="430.20" stroke="#000" stroke-width="1.0" stroke-linecap="round" /><line x1="1089.80" y1="437.80" x2="1093.80" y2="430.20" stroke="#000" stroke-width="1.0" stroke-linecap="round" /><line x1="1091.90" y1="437.80" x2="1095.90" y2="430.20" stroke="#000" stroke-width="1.0" stroke-linecap="round" /><line x1="1101.40" y1="437.80" x2="1105.40" y2="430.20" stroke="#000" stroke-width="1.0" stroke-linecap="round" /><line x1="1103.50" y1="437.80" x2="1107.50" y2="430.20" stroke="#000" stroke-width="1.0" stroke-linecap="round" /><line x1="1105.60" y1="437.80" x2="1109.60" y2="430.20" stroke="#000" stroke-width="1.0" stroke-linecap="round" /><line x1="1115.80" y1="437.80" x2="1119.80" y2="430.20" stroke="#000" stroke-width="1.0" stroke-linecap="round" /><line x1="1117.90" y1="437.80" x2="1121.90" y2="430.20" stroke="#000" stroke-width="1.0" stroke-linecap="round" /><line x1="1120.00" y1="437.80" x2="1124.00" y2="430.20" stroke="#000" stroke-width="1.0" stroke-linecap="round" /><line x1="1131.00" y1="437.80" x2="1135.00" y2="430.20" stroke="#000" stroke-width="1.0" stroke-linecap="round" /><line x1="1133.10" y1="437.80" x2="1137.10" y2="430.20" stroke="#000" stroke-width="1.0" stroke-linecap="round" /><line x1="1135.20" y1="437.80" x2="1139.20" y2="430.20" stroke="#000" stroke-width="1.0" stroke-linecap="round" /><line x1="1146.60" y1="437.80" x2="1150.60" y2="430.20" stroke="#000" stroke-width="1.0" stroke-linecap="round" /><line x1="1148.70" y1="437.80" x2="1152.70" y2="430.20" stroke="#000" stroke-width="1.0" stroke-linecap="round" /><line x1="1150.80" y1="437.80" x2="1154.80" y2="430.20" stroke="#000" stroke-width="1.0" stroke-linecap="round" /><line x1="1163.00" y1="437.80" x2="1167.00" y2="430.20" stroke="#000" stroke-width="1.0" stroke-linecap="round" /><line x1="1165.10" y1="437.80" x2="1169.10" y2="430.20" stroke="#000" stroke-width="1.0" stroke-linecap="round" /><line x1="1167.20" y1="437.80" x2="1171.20" y2="430.20" stroke="#000" stroke-width="1.0" stroke-linecap="round" /><path d="M1043,429 A4.2,4.2 0 0 1 1051.4,429" stroke="#000" stroke-width="1.3" fill="none" stroke-linecap="round" stroke-linejoin="round" /><path d="M1079,429 A4.2,4.2 0 0 1 1087.4,429" stroke="#000" stroke-width="1.3" fill="none" stroke-linecap="round" stroke-linejoin="round" /><line x1="1049.80" y1="443.10" x2="1055.60" y2="440.50" stroke="#000" stroke-width="1.3" stroke-linecap="round" /><line x1="1049.80" y1="445.40" x2="1055.60" y2="442.80" stroke="#000" stroke-width="1.3" stroke-linecap="round" /><line x1="1049.80" y1="447.70" x2="1055.60" y2="445.10" stroke="#000" stroke-width="1.3" stroke-linecap="round" /><line x1="1049.80" y1="454.60" x2="1055.60" y2="452.00" stroke="#000" stroke-width="1.3" stroke-linecap="round" /><line x1="1049.80" y1="456.90" x2="1055.60" y2="454.30" stroke="#000" stroke-width="1.3" stroke-linecap="round" /><line x1="1049.80" y1="459.20" x2="1055.60" y2="456.60" stroke="#000" stroke-width="1.3" stroke-linecap="round" /><line x1="1049.80" y1="465.40" x2="1055.60" y2="462.80" stroke="#000" stroke-width="1.3" stroke-linecap="round" /><line x1="1049.80" y1="467.70" x2="1055.60" y2="465.10" stroke="#000" stroke-width="1.3" stroke-linecap="round" /><line x1="1049.80" y1="470.00" x2="1055.60" y2="467.40" stroke="#000" stroke-width="1.3" stroke-linecap="round" /><line x1="1049.80" y1="482.50" x2="1055.60" y2="479.80" stroke="#000" stroke-width="1.3" stroke-linecap="round" /><line x1="1074.20" y1="441.00" x2="1081.00" y2="444.00" stroke="#000" stroke-width="1.3" stroke-linecap="round" /><line x1="1074.20" y1="443.40" x2="1081.00" y2="446.40" stroke="#000" stroke-width="1.3" stroke-linecap="round" /><line x1="1074.20" y1="445.80" x2="1081.00" y2="448.80" stroke="#000" stroke-width="1.3" stroke-linecap="round" /><line x1="1074.20" y1="455.50" x2="1081.00" y2="458.50" stroke="#000" stroke-width="1.3" stroke-linecap="round" /><line x1="1074.20" y1="457.90" x2="1081.00" y2="460.90" stroke="#000" stroke-width="1.3" stroke-linecap="round" /><line x1="1074.20" y1="460.30" x2="1081.00" y2="463.30" stroke="#000" stroke-width="1.3" stroke-linecap="round" /><line x1="1074.20" y1="469.50" x2="1081.00" y2="472.50" stroke="#000" stroke-width="1.3" stroke-linecap="round" /><line x1="1074.20" y1="471.90" x2="1081.00" y2="474.90" stroke="#000" stroke-width="1.3" stroke-linecap="round" /><line x1="1074.20" y1="474.30" x2="1081.00" y2="477.30" stroke="#000" stroke-width="1.3" stroke-linecap="round" /><line x1="1074.20" y1="482.50" x2="1080.50" y2="485.50" stroke="#000" stroke-width="2.2" stroke-linecap="round" /><line x1="1074.20" y1="485.50" x2="1078.50" y2="487.80" stroke="#000" stroke-width="1.3" stroke-linecap="round" /><ellipse cx="1064.0" cy="249.70" rx="5.00" ry="2.00" fill="#000"/><path d="M1060.40,250.00 L1067.60,250.00 L1069.60,253.80 L1058.40,253.80 Z" fill="#000"/><ellipse cx="1064.0" cy="254.10" rx="6.20" ry="1.90" fill="#000"/><ellipse cx="1064.0" cy="249.40" rx="2.80" ry="0.65" fill="#fff"/><path d="M1059.80,254.30 Q1062.80,253.90 1063.60,251.60 Q1065.50,253.60 1068.40,254.00 L1068.40,254.60 Z" fill="#fff"/><path d="M1064.3,256 L1064.3,268" stroke="#000" stroke-width="1.2" fill="none" stroke-linecap="round" stroke-linejoin="round" /><path d="M1063.4,268 L1062.0,300 L1058.3,489.5" stroke="#000" stroke-width="1.3" fill="none" stroke-linecap="round" stroke-linejoin="round" /><path d="M1065.4,268 L1066.0,300 L1071.4,489.5" stroke="#000" stroke-width="1.3" fill="none" stroke-linecap="round" stroke-linejoin="round" /><path d="M1064.4,262 L1064.4,300" stroke="#000" stroke-width="2.2" fill="none" stroke-linecap="round" stroke-linejoin="round" /><path d="M1064.3,300 L1064.3,500" stroke="#000" stroke-width="0.9" fill="none" stroke-linecap="round" stroke-linejoin="round" stroke-dasharray="14 3 2 3"/><path d="M1042.1,284.6 L1082.3,284.6" stroke="#000" stroke-width="1.4" fill="none" stroke-linecap="round" stroke-linejoin="round" /><path d="M1042.1,284.6 C1040,285.5 1040.5,291.8 1036.5,292.8 C1032.5,293.6 1030,292.5 1029,289.5" stroke="#000" stroke-width="1.4" fill="none" stroke-linecap="round" stroke-linejoin="round" /><path d="M1082.3,284.6 C1084.5,285.5 1084.5,291.8 1088.6,292.8 C1092.6,293.6 1095.5,292.5 1096.6,290" stroke="#000" stroke-width="1.4" fill="none" stroke-linecap="round" stroke-linejoin="round" /><ellipse cx="1026.5" cy="284.55" rx="4.25" ry="1.70" fill="#000"/><path d="M1023.44,284.80 L1029.56,284.80 L1031.26,288.03 L1021.74,288.03 Z" fill="#000"/><ellipse cx="1026.5" cy="288.29" rx="5.27" ry="1.61" fill="#000"/><ellipse cx="1026.5" cy="284.29" rx="2.38" ry="0.55" fill="#fff"/><path d="M1022.93,288.45 Q1025.48,288.12 1026.16,286.16 Q1027.78,287.86 1030.24,288.20 L1030.24,288.71 Z" fill="#fff"/><ellipse cx="1098.4" cy="285.05" rx="4.25" ry="1.70" fill="#000"/><path d="M1095.34,285.30 L1101.46,285.30 L1103.16,288.53 L1093.64,288.53 Z" fill="#000"/><ellipse cx="1098.4" cy="288.79" rx="5.27" ry="1.61" fill="#000"/><ellipse cx="1098.4" cy="284.79" rx="2.38" ry="0.55" fill="#fff"/><path d="M1094.83,288.95 Q1097.38,288.62 1098.06,286.66 Q1099.68,288.36 1102.14,288.70 L1102.14,289.21 Z" fill="#fff"/><path d="M1003.4,478.3 L1098,478.3" stroke="#000" stroke-width="1.1" fill="none" stroke-linecap="round" stroke-linejoin="round" /><path d="M1116.3,429 L1116.3,489.5" stroke="#000" stroke-width="1.1" fill="none" stroke-linecap="round" stroke-linejoin="round" /><path d="M1116.3,430 L1114.8,437 L1117.8,437 Z" stroke="#000" stroke-width="1.0" fill="#000" stroke-linecap="round" stroke-linejoin="round" /><path d="M1116.3,489 L1114.8,482 L1117.8,482 Z" stroke="#000" stroke-width="1.0" fill="#000" stroke-linecap="round" stroke-linejoin="round" /><text x="1022.28" y="474.70" font-size="13" font-style="italic" stroke="#000" stroke-width="0.35" textLength="22.33" lengthAdjust="spacingAndGlyphs">350</text><text transform="translate(1112.80 479.12) rotate(-90)" x="0" y="0" font-size="13" font-style="italic" stroke="#000" stroke-width="0.35" textLength="29.23" lengthAdjust="spacingAndGlyphs">2000</text><path d="M855,427.5 L883.3,400.8 L923.3,400.8 L951.7,428.5" stroke="#000" stroke-width="1.3" fill="none" stroke-linecap="round" stroke-linejoin="round" /><path d="M856,427 C866,421 878,415 893.3,413.8 L916.7,413.8 C930,415 940,421 950.5,427.5" stroke="#000" stroke-width="1.3" fill="none" stroke-linecap="round" stroke-linejoin="round" /><path d="M892,418 C898,414.5 910,414.5 916,418 C910,421.5 898,421.5 892,418 Z" stroke="#000" stroke-width="1.2" fill="none" stroke-linecap="round" stroke-linejoin="round" /><path d="M903.3,405 L903.3,429" stroke="#000" stroke-width="0.8" fill="none" stroke-linecap="round" stroke-linejoin="round" stroke-dasharray="6 2 1.5 2"/><path d="M875.5,412.8 L881.2,407.2 L881.2,412.8 Z" stroke="#000" stroke-width="1.3" fill="none" stroke-linecap="round" stroke-linejoin="round" /><path d="M925,407.2 L931,412.8 L925,412.8 Z" stroke="#000" stroke-width="1.3" fill="none" stroke-linecap="round" stroke-linejoin="round" /><path d="M878.5,428 L878.5,419 Q878.5,417.5 880,417.5 L887,417.5 Q888.5,417.5 888.5,419 L888.5,428" stroke="#000" stroke-width="1.3" fill="none" stroke-linecap="round" stroke-linejoin="round" /><path d="M883.3,418 L883.3,428" stroke="#000" stroke-width="1.0" fill="none" stroke-linecap="round" stroke-linejoin="round" /><path d="M919,428 L919,419 Q919,417.5 920.5,417.5 L926,417.5 Q927.5,417.5 927.5,419 L927.5,428" stroke="#000" stroke-width="1.3" fill="none" stroke-linecap="round" stroke-linejoin="round" /><path d="M923.3,418 L923.3,428" stroke="#000" stroke-width="1.0" fill="none" stroke-linecap="round" stroke-linejoin="round" /><path d="M855.5,428.5 A3.5,3.5 0 0 1 862.5,428.5" stroke="#000" stroke-width="1.3" fill="none" stroke-linecap="round" stroke-linejoin="round" /><path d="M945,428.5 A3.5,3.5 0 0 1 952,428.5" stroke="#000" stroke-width="1.3" fill="none" stroke-linecap="round" stroke-linejoin="round" /><path d="M888.3,397.2 L888.3,400.8 M917.5,397.2 L917.5,400.8" stroke="#000" stroke-width="1.2" fill="none" stroke-linecap="round" stroke-linejoin="round" /><path d="M874.2,390.8 L877.9,390.8 L877.9,393.5 L918.3,393.5 L918.3,397.2 L874.2,397.2 Z" stroke="#000" stroke-width="1.3" fill="none" stroke-linecap="round" stroke-linejoin="round" /><path d="M877.9,393.5 L877.9,364.2 L880.8,366.5 L880.8,393.5" stroke="#000" stroke-width="1.3" fill="none" stroke-linecap="round" stroke-linejoin="round" /><path d="M880.8,393.5 L916.7,393.5 L916.7,378.3" stroke="#000" stroke-width="1.3" fill="none" stroke-linecap="round" stroke-linejoin="round" /><path d="M918.3,397.2 L918.3,378.3 L928.3,372.5" stroke="#000" stroke-width="1.3" fill="none" stroke-linecap="round" stroke-linejoin="round" /><path d="M880.8,366.5 L916.7,378.3" stroke="#000" stroke-width="1.3" fill="none" stroke-linecap="round" stroke-linejoin="round" /><circle cx="885.2" cy="386.5" r="2.7" fill="none" stroke="#000" stroke-width="1.3"/><line x1="882.60" y1="386.50" x2="887.80" y2="386.50" stroke="#000" stroke-width="1.0" stroke-linecap="round" /><circle cx="893.8" cy="386.5" r="2.6" fill="none" stroke="#000" stroke-width="1.4"/><circle cx="893.8" cy="386.5" r="1.0" fill="#000"/><line x1="896.40" y1="386.50" x2="900.80" y2="386.50" stroke="#000" stroke-width="1.0" stroke-linecap="round" /><path d="M877.9,364.2 L1061.0,295.6" stroke="#000" stroke-width="1.8" fill="none" stroke-linecap="round" stroke-linejoin="round" /><path d="M880.8,366.3 L1061.0,298.3" stroke="#000" stroke-width="1.3" fill="none" stroke-linecap="round" stroke-linejoin="round" /><path d="M914.2,363.4 L1061.0,303.4" stroke="#000" stroke-width="1.3" fill="none" stroke-linecap="round" stroke-linejoin="round" /><path d="M914.2,363.4 L919.2,376.6" stroke="#000" stroke-width="1.2" fill="none" stroke-linecap="round" stroke-linejoin="round" /><path d="M895.8,364.5 L911.7,363.8 L913,368 M895.8,364.5 L895.8,368 L904,368 L904,372 M896,371 L896,375 L911,375" stroke="#000" stroke-width="1.2" fill="none" stroke-linecap="round" stroke-linejoin="round" /><path d="M927.5,369.0 L1061.0,302.5" stroke="#000" stroke-width="1.4" fill="none" stroke-linecap="round" stroke-linejoin="round" /><path d="M919.2,376.6 L930.5,375.5 L1061.0,306.5" stroke="#000" stroke-width="1.5" fill="none" stroke-linecap="round" stroke-linejoin="round" /><line x1="927.50" y1="369.00" x2="935.94" y2="372.62" stroke="#000" stroke-width="1.1" stroke-linecap="round" /><line x1="930.50" y1="375.50" x2="933.06" y2="366.23" stroke="#000" stroke-width="1.1" stroke-linecap="round" /><line x1="933.06" y1="366.23" x2="941.38" y2="369.75" stroke="#000" stroke-width="1.1" stroke-linecap="round" /><line x1="935.94" y1="372.62" x2="938.62" y2="363.46" stroke="#000" stroke-width="1.1" stroke-linecap="round" /><line x1="938.62" y1="363.46" x2="946.81" y2="366.88" stroke="#000" stroke-width="1.1" stroke-linecap="round" /><line x1="941.38" y1="369.75" x2="944.19" y2="360.69" stroke="#000" stroke-width="1.1" stroke-linecap="round" /><line x1="944.19" y1="360.69" x2="952.25" y2="364.00" stroke="#000" stroke-width="1.1" stroke-linecap="round" /><line x1="946.81" y1="366.88" x2="949.75" y2="357.92" stroke="#000" stroke-width="1.1" stroke-linecap="round" /><line x1="949.75" y1="357.92" x2="957.69" y2="361.12" stroke="#000" stroke-width="1.1" stroke-linecap="round" /><line x1="952.25" y1="364.00" x2="955.31" y2="355.15" stroke="#000" stroke-width="1.1" stroke-linecap="round" /><line x1="955.31" y1="355.15" x2="963.12" y2="358.25" stroke="#000" stroke-width="1.1" stroke-linecap="round" /><line x1="957.69" y1="361.12" x2="960.88" y2="352.38" stroke="#000" stroke-width="1.1" stroke-linecap="round" /><line x1="960.88" y1="352.38" x2="968.56" y2="355.38" stroke="#000" stroke-width="1.1" stroke-linecap="round" /><line x1="963.12" y1="358.25" x2="966.44" y2="349.60" stroke="#000" stroke-width="1.1" stroke-linecap="round" /><line x1="966.44" y1="349.60" x2="974.00" y2="352.50" stroke="#000" stroke-width="1.1" stroke-linecap="round" /><line x1="968.56" y1="355.38" x2="972.00" y2="346.83" stroke="#000" stroke-width="1.1" stroke-linecap="round" /><line x1="972.00" y1="346.83" x2="979.44" y2="349.62" stroke="#000" stroke-width="1.1" stroke-linecap="round" /><line x1="974.00" y1="352.50" x2="977.56" y2="344.06" stroke="#000" stroke-width="1.1" stroke-linecap="round" /><line x1="977.56" y1="344.06" x2="984.88" y2="346.75" stroke="#000" stroke-width="1.1" stroke-linecap="round" /><line x1="979.44" y1="349.62" x2="983.12" y2="341.29" stroke="#000" stroke-width="1.1" stroke-linecap="round" /><line x1="983.12" y1="341.29" x2="990.31" y2="343.88" stroke="#000" stroke-width="1.1" stroke-linecap="round" /><line x1="984.88" y1="346.75" x2="988.69" y2="338.52" stroke="#000" stroke-width="1.1" stroke-linecap="round" /><line x1="988.69" y1="338.52" x2="995.75" y2="341.00" stroke="#000" stroke-width="1.1" stroke-linecap="round" /><line x1="990.31" y1="343.88" x2="994.25" y2="335.75" stroke="#000" stroke-width="1.1" stroke-linecap="round" /><line x1="994.25" y1="335.75" x2="1001.19" y2="338.12" stroke="#000" stroke-width="1.1" stroke-linecap="round" /><line x1="995.75" y1="341.00" x2="999.81" y2="332.98" stroke="#000" stroke-width="1.1" stroke-linecap="round" /><line x1="999.81" y1="332.98" x2="1006.62" y2="335.25" stroke="#000" stroke-width="1.1" stroke-linecap="round" /><line x1="1001.19" y1="338.12" x2="1005.38" y2="330.21" stroke="#000" stroke-width="1.1" stroke-linecap="round" /><line x1="1005.38" y1="330.21" x2="1012.06" y2="332.38" stroke="#000" stroke-width="1.1" stroke-linecap="round" /><line x1="1006.62" y1="335.25" x2="1010.94" y2="327.44" stroke="#000" stroke-width="1.1" stroke-linecap="round" /><line x1="1010.94" y1="327.44" x2="1017.50" y2="329.50" stroke="#000" stroke-width="1.1" stroke-linecap="round" /><line x1="1012.06" y1="332.38" x2="1016.50" y2="324.67" stroke="#000" stroke-width="1.1" stroke-linecap="round" /><line x1="1016.50" y1="324.67" x2="1022.94" y2="326.62" stroke="#000" stroke-width="1.1" stroke-linecap="round" /><line x1="1017.50" y1="329.50" x2="1022.06" y2="321.90" stroke="#000" stroke-width="1.1" stroke-linecap="round" /><line x1="1022.06" y1="321.90" x2="1028.38" y2="323.75" stroke="#000" stroke-width="1.1" stroke-linecap="round" /><line x1="1022.94" y1="326.62" x2="1027.62" y2="319.12" stroke="#000" stroke-width="1.1" stroke-linecap="round" /><line x1="1027.62" y1="319.12" x2="1033.81" y2="320.88" stroke="#000" stroke-width="1.1" stroke-linecap="round" /><line x1="1028.38" y1="323.75" x2="1033.19" y2="316.35" stroke="#000" stroke-width="1.1" stroke-linecap="round" /><line x1="1033.19" y1="316.35" x2="1039.25" y2="318.00" stroke="#000" stroke-width="1.1" stroke-linecap="round" /><line x1="1033.81" y1="320.88" x2="1038.75" y2="313.58" stroke="#000" stroke-width="1.1" stroke-linecap="round" /><line x1="1038.75" y1="313.58" x2="1044.69" y2="315.12" stroke="#000" stroke-width="1.1" stroke-linecap="round" /><line x1="1039.25" y1="318.00" x2="1044.31" y2="310.81" stroke="#000" stroke-width="1.1" stroke-linecap="round" /><line x1="1044.31" y1="310.81" x2="1050.12" y2="312.25" stroke="#000" stroke-width="1.1" stroke-linecap="round" /><line x1="1044.69" y1="315.12" x2="1049.88" y2="308.04" stroke="#000" stroke-width="1.1" stroke-linecap="round" /><line x1="1049.88" y1="308.04" x2="1055.56" y2="309.38" stroke="#000" stroke-width="1.1" stroke-linecap="round" /><line x1="1050.12" y1="312.25" x2="1055.44" y2="305.27" stroke="#000" stroke-width="1.1" stroke-linecap="round" /><line x1="1055.44" y1="305.27" x2="1061.00" y2="306.50" stroke="#000" stroke-width="1.1" stroke-linecap="round" /><line x1="1055.56" y1="309.38" x2="1061.00" y2="302.50" stroke="#000" stroke-width="1.1" stroke-linecap="round" /><ellipse cx="929.5" cy="371.5" rx="1.8" ry="5.5" transform="rotate(-28 929.5 371.5)" fill="none" stroke="#000" stroke-width="1.5"/><ellipse cx="991.7" cy="339.2" rx="1.6" ry="5.0" transform="rotate(-28 991.7 339.2)" fill="#000" stroke="#000" stroke-width="1.2"/><ellipse cx="1398.5" cy="228.41" rx="4.75" ry="1.90" fill="#000"/><path d="M1395.08,228.70 L1401.92,228.70 L1403.82,232.31 L1393.18,232.31 Z" fill="#000"/><ellipse cx="1398.5" cy="232.59" rx="5.89" ry="1.80" fill="#000"/><ellipse cx="1398.5" cy="228.13" rx="2.66" ry="0.62" fill="#fff"/><path d="M1394.51,232.78 Q1397.36,232.41 1398.12,230.22 Q1399.92,232.12 1402.68,232.50 L1402.68,233.07 Z" fill="#fff"/><path d="M1398.5,234 L1398.5,247" stroke="#000" stroke-width="1.2" fill="none" stroke-linecap="round" stroke-linejoin="round" /><path d="M1396.5,247 L1387.3,492.3" stroke="#000" stroke-width="1.3" fill="none" stroke-linecap="round" stroke-linejoin="round" /><path d="M1400.0,247 L1409.8,492.3" stroke="#000" stroke-width="1.3" fill="none" stroke-linecap="round" stroke-linejoin="round" /><path d="M1398.2,244 L1398.2,262" stroke="#000" stroke-width="2.0" fill="none" stroke-linecap="round" stroke-linejoin="round" /><path d="M1397.3,262 L1396.7,493" stroke="#000" stroke-width="0.9" fill="none" stroke-linecap="round" stroke-linejoin="round" stroke-dasharray="14 3 2 3"/><path d="M1376,271 L1420.6,271" stroke="#000" stroke-width="1.4" fill="none" stroke-linecap="round" stroke-linejoin="round" /><path d="M1376,271 C1373.5,271.5 1373.5,277.8 1368.5,278 C1364,278.2 1361.5,275.5 1361,272.5" stroke="#000" stroke-width="1.4" fill="none" stroke-linecap="round" stroke-linejoin="round" /><path d="M1420.6,271 C1423,271.5 1423,277.8 1428,278 C1432.5,278.2 1435,275.5 1435.5,272.5" stroke="#000" stroke-width="1.4" fill="none" stroke-linecap="round" stroke-linejoin="round" /><ellipse cx="1360.5" cy="267.36" rx="4.00" ry="1.60" fill="#000"/><path d="M1357.62,267.60 L1363.38,267.60 L1364.98,270.64 L1356.02,270.64 Z" fill="#000"/><ellipse cx="1360.5" cy="270.88" rx="4.96" ry="1.52" fill="#000"/><ellipse cx="1360.5" cy="267.12" rx="2.24" ry="0.52" fill="#fff"/><path d="M1357.14,271.04 Q1359.54,270.72 1360.18,268.88 Q1361.70,270.48 1364.02,270.80 L1364.02,271.28 Z" fill="#fff"/><ellipse cx="1436.0" cy="267.76" rx="4.00" ry="1.60" fill="#000"/><path d="M1433.12,268.00 L1438.88,268.00 L1440.48,271.04 L1431.52,271.04 Z" fill="#000"/><ellipse cx="1436.0" cy="271.28" rx="4.96" ry="1.52" fill="#000"/><ellipse cx="1436.0" cy="267.52" rx="2.24" ry="0.52" fill="#fff"/><path d="M1432.64,271.44 Q1435.04,271.12 1435.68,269.28 Q1437.20,270.88 1439.52,271.20 L1439.52,271.68 Z" fill="#fff"/><path d="M1293,388.3 L1492.1,387.6" stroke="#000" stroke-width="1.2" fill="none" stroke-linecap="round" stroke-linejoin="round" /><path d="M1362,402.6 L1463.8,403.0" stroke="#000" stroke-width="1.2" fill="none" stroke-linecap="round" stroke-linejoin="round" /><path d="M1387.5,468 L1387.5,492.3 L1493.3,492.0" stroke="#000" stroke-width="1.4" fill="none" stroke-linecap="round" stroke-linejoin="round" /><path d="M1235,468.3 L1387,467.5" stroke="#000" stroke-width="1.1" fill="none" stroke-linecap="round" stroke-linejoin="round" /><path d="M1235,284 L1235,476.7" stroke="#000" stroke-width="0.9" fill="none" stroke-linecap="round" stroke-linejoin="round" stroke-dasharray="16 3 2 3"/><path d="M1352.5,390 L1352.5,474.2" stroke="#000" stroke-width="0.9" fill="none" stroke-linecap="round" stroke-linejoin="round" /><path d="M1484.6,388 L1484.6,492" stroke="#000" stroke-width="1.1" fill="none" stroke-linecap="round" stroke-linejoin="round" /><path d="M1459.7,362.7 L1459.7,428" stroke="#000" stroke-width="1.0" fill="none" stroke-linecap="round" stroke-linejoin="round" /><path d="M1459.7,387.5 L1458.3,379.5 L1461.1,379.5 Z" stroke="#000" stroke-width="1.0" fill="#000" stroke-linecap="round" stroke-linejoin="round" /><path d="M1459.7,403 L1458.3,411 L1461.1,411 Z" stroke="#000" stroke-width="1.0" fill="#000" stroke-linecap="round" stroke-linejoin="round" /><path d="M1235,468.3 L1243,467 L1243,469.5 Z" stroke="#000" stroke-width="0.8" fill="#000" stroke-linecap="round" stroke-linejoin="round" /><path d="M1352.5,467.8 L1344.5,466.6 L1344.5,469 Z" stroke="#000" stroke-width="0.8" fill="#000" stroke-linecap="round" stroke-linejoin="round" /><path d="M1484.6,388 L1483.3,395 L1485.9,395 Z" stroke="#000" stroke-width="0.8" fill="#000" stroke-linecap="round" stroke-linejoin="round" /><path d="M1484.6,492 L1483.3,485 L1485.9,485 Z" stroke="#000" stroke-width="0.8" fill="#000" stroke-linecap="round" stroke-linejoin="round" /><path d="M1398.5,387.5 L1455.2,328.8 L1560.4,328.8" stroke="#000" stroke-width="1.2" fill="none" stroke-linecap="round" stroke-linejoin="round" /><text x="1457.83" y="326.80" font-size="16" font-style="italic" stroke="#000" stroke-width="0.35" textLength="102.81" lengthAdjust="spacingAndGlyphs">Место строповки</text><text x="1494.17" y="337.40" font-size="13.3" font-style="italic" stroke="#000" stroke-width="0.35" textLength="38.08" lengthAdjust="spacingAndGlyphs">опоры</text><text x="1361.26" y="386.70" font-size="15" font-style="italic" font-weight="bold" textLength="17.26" lengthAdjust="spacingAndGlyphs">Ось</text><text x="1408.39" y="386.00" font-size="12.5" font-style="italic" stroke="#000" stroke-width="0.35" textLength="33.03" lengthAdjust="spacingAndGlyphs">крана</text><text x="1369.42" y="401.80" font-size="14" font-style="italic" font-weight="bold" textLength="14.83" lengthAdjust="spacingAndGlyphs">Ось</text><text x="1408.43" y="402.00" font-size="11.5" font-style="italic" stroke="#000" stroke-width="0.35" textLength="50.60" lengthAdjust="spacingAndGlyphs">котлована</text><text transform="translate(1456.20 381.70) rotate(-90)" x="0" y="0" font-size="13" font-style="italic" stroke="#000" stroke-width="0.35" textLength="22.71" lengthAdjust="spacingAndGlyphs">500</text><text transform="translate(1482.50 452.48) rotate(-90)" x="0" y="0" font-size="13" font-style="italic" stroke="#000" stroke-width="0.35" textLength="30.90" lengthAdjust="spacingAndGlyphs">6000</text><text x="1283.36" y="465.80" font-size="15" font-style="italic" stroke="#000" stroke-width="0.35" textLength="33.47" lengthAdjust="spacingAndGlyphs">6000</text><text x="1355.46" y="466.00" font-size="14" font-style="italic" stroke="#000" stroke-width="0.35" textLength="28.85" lengthAdjust="spacingAndGlyphs">1000</text><polygon points="1365.90,402.20 1365.31,403.05 1363.89,403.71 1363.74,404.46 1363.55,405.20 1363.29,405.92 1362.99,406.62 1363.81,407.91 1363.82,408.93 1362.84,409.34 1361.26,409.17 1360.72,409.72 1360.13,410.24 1359.51,410.72 1358.86,411.15 1358.81,412.66 1358.24,413.52 1357.18,413.36 1355.96,412.41 1355.18,412.60 1354.39,412.73 1353.60,412.81 1352.80,412.84 1351.91,414.09 1350.94,414.52 1350.13,413.84 1349.64,412.41 1348.89,412.17 1348.15,411.88 1347.43,411.54 1346.74,411.15 1345.28,411.74 1344.22,411.61 1343.93,410.63 1344.34,409.17 1343.83,408.58 1343.38,407.95 1342.97,407.30 1342.61,406.62 1341.05,406.36 1340.23,405.71 1340.54,404.73 1341.71,403.71 1341.63,402.96 1341.60,402.20 1341.63,401.44 1341.71,400.69 1340.54,399.67 1340.23,398.69 1341.05,398.04 1342.61,397.78 1342.97,397.10 1343.38,396.45 1343.83,395.82 1344.34,395.23 1343.93,393.77 1344.22,392.79 1345.28,392.66 1346.74,393.25 1347.43,392.86 1348.15,392.52 1348.89,392.23 1349.64,391.99 1350.13,390.56 1350.94,389.88 1351.91,390.31 1352.80,391.56 1353.60,391.59 1354.39,391.67 1355.18,391.80 1355.96,391.99 1357.18,391.04 1358.24,390.88 1358.81,391.74 1358.86,393.25 1359.51,393.68 1360.13,394.16 1360.72,394.68 1361.26,395.23 1362.84,395.06 1363.82,395.47 1363.81,396.49 1362.99,397.78 1363.29,398.48 1363.55,399.20 1363.74,399.94 1363.89,400.69 1365.31,401.35" fill="#fff" stroke="#000" stroke-width="1.4"/><circle cx="1352.8" cy="402.2" r="8.0" fill="none" stroke="#000" stroke-width="1.5"/><circle cx="1352.8" cy="402.2" r="3.4" fill="none" stroke="#000" stroke-width="1.3"/><ellipse cx="1349.3" cy="402.7" rx="3.2" ry="1.6" fill="#000"/><path d="M1352.8,389.2 L1352.8,415.2" stroke="#000" stroke-width="0.9" fill="none" stroke-linecap="round" stroke-linejoin="round" /><path d="M1249,380.3 L1342,397.9" stroke="#000" stroke-width="1.7" fill="none" stroke-linecap="round" stroke-linejoin="round" /><path d="M1248,388.5 L1342,404.9" stroke="#000" stroke-width="1.7" fill="none" stroke-linecap="round" stroke-linejoin="round" /><line x1="1266.00" y1="383.60" x2="1271.29" y2="391.49" stroke="#000" stroke-width="1.5" stroke-linecap="round" /><line x1="1266.00" y1="390.50" x2="1271.29" y2="384.58" stroke="#000" stroke-width="1.5" stroke-linecap="round" /><line x1="1271.29" y1="384.58" x2="1276.57" y2="392.49" stroke="#000" stroke-width="1.5" stroke-linecap="round" /><line x1="1271.29" y1="391.49" x2="1276.57" y2="385.56" stroke="#000" stroke-width="1.5" stroke-linecap="round" /><line x1="1276.57" y1="385.56" x2="1281.86" y2="393.48" stroke="#000" stroke-width="1.5" stroke-linecap="round" /><line x1="1276.57" y1="392.49" x2="1281.86" y2="386.54" stroke="#000" stroke-width="1.5" stroke-linecap="round" /><line x1="1281.86" y1="386.54" x2="1287.14" y2="394.47" stroke="#000" stroke-width="1.5" stroke-linecap="round" /><line x1="1281.86" y1="393.48" x2="1287.14" y2="387.51" stroke="#000" stroke-width="1.5" stroke-linecap="round" /><line x1="1287.14" y1="387.51" x2="1292.43" y2="395.46" stroke="#000" stroke-width="1.5" stroke-linecap="round" /><line x1="1287.14" y1="394.47" x2="1292.43" y2="388.49" stroke="#000" stroke-width="1.5" stroke-linecap="round" /><line x1="1292.43" y1="388.49" x2="1297.71" y2="396.46" stroke="#000" stroke-width="1.5" stroke-linecap="round" /><line x1="1292.43" y1="395.46" x2="1297.71" y2="389.47" stroke="#000" stroke-width="1.5" stroke-linecap="round" /><line x1="1297.71" y1="389.47" x2="1303.00" y2="397.45" stroke="#000" stroke-width="1.5" stroke-linecap="round" /><line x1="1297.71" y1="396.46" x2="1303.00" y2="390.45" stroke="#000" stroke-width="1.5" stroke-linecap="round" /><line x1="1303.00" y1="390.45" x2="1308.29" y2="398.44" stroke="#000" stroke-width="1.5" stroke-linecap="round" /><line x1="1303.00" y1="397.45" x2="1308.29" y2="391.43" stroke="#000" stroke-width="1.5" stroke-linecap="round" /><line x1="1308.29" y1="391.43" x2="1313.57" y2="399.44" stroke="#000" stroke-width="1.5" stroke-linecap="round" /><line x1="1308.29" y1="398.44" x2="1313.57" y2="392.41" stroke="#000" stroke-width="1.5" stroke-linecap="round" /><line x1="1313.57" y1="392.41" x2="1318.86" y2="400.43" stroke="#000" stroke-width="1.5" stroke-linecap="round" /><line x1="1313.57" y1="399.44" x2="1318.86" y2="393.39" stroke="#000" stroke-width="1.5" stroke-linecap="round" /><line x1="1318.86" y1="393.39" x2="1324.14" y2="401.42" stroke="#000" stroke-width="1.5" stroke-linecap="round" /><line x1="1318.86" y1="400.43" x2="1324.14" y2="394.36" stroke="#000" stroke-width="1.5" stroke-linecap="round" /><line x1="1324.14" y1="394.36" x2="1329.43" y2="402.41" stroke="#000" stroke-width="1.5" stroke-linecap="round" /><line x1="1324.14" y1="401.42" x2="1329.43" y2="395.34" stroke="#000" stroke-width="1.5" stroke-linecap="round" /><line x1="1329.43" y1="395.34" x2="1334.71" y2="403.41" stroke="#000" stroke-width="1.5" stroke-linecap="round" /><line x1="1329.43" y1="402.41" x2="1334.71" y2="396.32" stroke="#000" stroke-width="1.5" stroke-linecap="round" /><line x1="1334.71" y1="396.32" x2="1340.00" y2="404.40" stroke="#000" stroke-width="1.5" stroke-linecap="round" /><line x1="1334.71" y1="403.41" x2="1340.00" y2="397.30" stroke="#000" stroke-width="1.5" stroke-linecap="round" /><path d="M1249,381 L1270,384.5 M1248,388 L1270,391.5" stroke="#000" stroke-width="1.3" fill="none" stroke-linecap="round" stroke-linejoin="round" /><path d="M1216.5,293.2 L1257.2,293.2 L1257.2,296.5 L1216.5,296.5 Z" stroke="#000" stroke-width="1.3" fill="none" stroke-linecap="round" stroke-linejoin="round" /><path d="M1224.2,296.5 L1224.2,300.6 L1247.8,300.6 L1247.8,296.5" stroke="#000" stroke-width="1.2" fill="none" stroke-linecap="round" stroke-linejoin="round" /><path d="M1230,300.6 Q1235,303 1240,300.6" stroke="#000" stroke-width="1.6" fill="none" stroke-linecap="round" stroke-linejoin="round" /><path d="M1216.5,299 Q1214.2,299 1214.2,302 L1214.2,321 Q1214.2,324.2 1218,324.2 L1224.2,324.2 L1224.2,303 Q1222,299 1216.5,299 Z" stroke="#000" stroke-width="1.3" fill="none" stroke-linecap="round" stroke-linejoin="round" /><path d="M1255,299 Q1257.2,299 1257.2,302 L1257.2,321 Q1257.2,324.2 1253.5,324.2 L1247.8,324.2 L1247.8,303 Q1250,299 1255,299 Z" stroke="#000" stroke-width="1.3" fill="none" stroke-linecap="round" stroke-linejoin="round" /><path d="M1228.3,306.5 L1241.9,306.5 L1249.6,339.6 L1221.3,339.6 Z" stroke="#000" stroke-width="1.3" fill="none" stroke-linecap="round" stroke-linejoin="round" /><path d="M1224.2,328.4 L1216.5,328.4 Q1214.2,328.4 1214.2,331 L1214.2,338 Q1214.2,340.2 1217,340.2 L1221.8,340.2" stroke="#000" stroke-width="1.3" fill="none" stroke-linecap="round" stroke-linejoin="round" /><path d="M1247.8,328.4 L1255,328.4 Q1257.2,328.4 1257.2,331 L1257.2,338 Q1257.2,340.2 1254.5,340.2 L1249.6,340.2" stroke="#000" stroke-width="1.3" fill="none" stroke-linecap="round" stroke-linejoin="round" /><path d="M1221.8,341.9 L1247.8,341.9 L1247.8,362.6 L1221.8,362.6 Z" stroke="#000" stroke-width="1.3" fill="none" stroke-linecap="round" stroke-linejoin="round" /><path d="M1221.8,345.5 L1247.8,345.5 M1221.8,356.7 L1247.8,356.7" stroke="#000" stroke-width="1.2" fill="none" stroke-linecap="round" stroke-linejoin="round" /><path d="M1226.6,362.6 L1226.6,398 L1243.7,398 L1243.7,362.6" stroke="#000" stroke-width="1.3" fill="none" stroke-linecap="round" stroke-linejoin="round" /><path d="M1226.6,390 L1243.7,390" stroke="#000" stroke-width="1.1" fill="none" stroke-linecap="round" stroke-linejoin="round" /><path d="M1213.6,353 L1224.2,361.4 M1213.6,353 L1213.6,409.7 L1228.9,399.1" stroke="#000" stroke-width="1.3" fill="none" stroke-linecap="round" stroke-linejoin="round" /><path d="M1254.9,353 L1246.6,361.4 M1254.9,353 L1254.9,409.7 L1243.1,399.1" stroke="#000" stroke-width="1.3" fill="none" stroke-linecap="round" stroke-linejoin="round" /><path d="M1210.8,351.3 L1216.4,351.3 L1213.6,355 Z" stroke="#000" stroke-width="1.3" fill="#fff" stroke-linecap="round" stroke-linejoin="round" /><path d="M1252.1,351.3 L1257.7,351.3 L1254.9,355 Z" stroke="#000" stroke-width="1.3" fill="#fff" stroke-linecap="round" stroke-linejoin="round" /><path d="M1208.6,412.6 L1215.2,412.6 L1212.2,408.6 Z" stroke="#000" stroke-width="1.3" fill="#333" stroke-linecap="round" stroke-linejoin="round" /><path d="M1254.6,412.6 L1261.2,412.6 L1257.6,408.6 Z" stroke="#000" stroke-width="1.3" fill="#333" stroke-linecap="round" stroke-linejoin="round" /><path d="M1200.6,367.9 L1249,376.7 L1247.8,388.5 L1198.8,380.3 Q1195.5,374 1200.6,367.9 Z" stroke="#000" stroke-width="1.5" fill="none" stroke-linecap="round" stroke-linejoin="round" /><path d="M1207.7,373.3 L1244.3,378.5 L1244.3,385.5 L1207.7,380 Z" stroke="#000" stroke-width="1.2" fill="none" stroke-linecap="round" stroke-linejoin="round" /><path d="M1209,376.2 L1240,380.6 M1209,378 L1240,382.6" stroke="#000" stroke-width="1.6" fill="none" stroke-linecap="round" stroke-linejoin="round" /><path d="M1198,372.5 L1198,379" stroke="#000" stroke-width="2.2" fill="none" stroke-linecap="round" stroke-linejoin="round" /><path d="M1237.2,359 L1244.8,359 L1244.8,367.9 L1237.2,367.9 Z" stroke="#000" stroke-width="1.2" fill="none" stroke-linecap="round" stroke-linejoin="round" /><path d="M1239.2,361 L1242.8,361 L1242.8,366 L1239.2,366 Z" stroke="#000" stroke-width="1.0" fill="none" stroke-linecap="round" stroke-linejoin="round" /></svg>
</body></html>
